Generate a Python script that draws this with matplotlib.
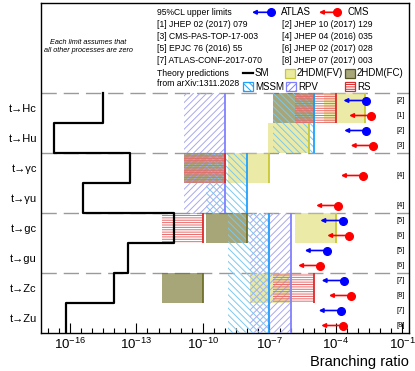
import numpy as np
import matplotlib
matplotlib.use('Agg')
import matplotlib.pyplot as plt
import matplotlib.transforms as mtransforms
from matplotlib.patches import Rectangle
from matplotlib.lines import Line2D
from matplotlib.ticker import FixedLocator, FuncFormatter, NullFormatter

plt.rcParams['font.family'] = ['Liberation Sans', 'DejaVu Sans']
plt.rcParams['mathtext.default'] = 'regular'
plt.rcParams['hatch.linewidth'] = 0.7

nan = np.nan

# decay channels, top to bottom
processes = ['t→Hc', 't→Hu', 't→γc', 't→γu', 't→gc', 't→gu', 't→Zc', 't→Zu']

# theory predictions from arXiv:1311.2028
sm = [3e-15, 2e-17, 5e-14, 4e-16, 5e-12, 4e-14, 1e-14, 7e-17]
thdm_fv = [2e-3, 6e-6, 1e-7, nan, 1e-4, nan, 1e-6, nan]
thdm_fc = [1e-5, nan, 1e-9, nan, 1e-8, nan, 1e-10, nan]
mssm = [1e-5, 1e-5, 1e-8, 1e-8, 1e-7, 1e-7, 1e-7, 1e-7]
rpv = [1e-9, 1e-9, 1e-9, 1e-9, 1e-6, 1e-6, 1e-6, 1e-6]
rs = [1e-4, nan, 1e-9, nan, 1e-10, nan, 1e-5, nan]

# 95% CL upper limits
atlas = [2.2e-3, 2.4e-3, nan, nan, 2.0e-4, 4.0e-5, 2.3e-4, 1.7e-4]
atlas_ref = ['[2]', '[2]', '', '', '[5]', '[5]', '[7]', '[7]']
cms = [4.0e-3, 4.7e-3, 1.7e-3, 1.3e-4, 4.1e-4, 2.0e-5, 4.9e-4, 2.2e-4]
cms_ref = ['[1]', '[3]', '[4]', '[4]', '[6]', '[6]', '[8]', '[8]']

refs_left = ['[1] JHEP 02 (2017) 079', '[3] CMS-PAS-TOP-17-003',
             '[5] EPJC 76 (2016) 55', '[7] ATLAS-CONF-2017-070']
refs_right = ['[2] JHEP 10 (2017) 129', '[4] JHEP 04 (2016) 035',
              '[6] JHEP 02 (2017) 028', '[8] JHEP 07 (2017) 003']

n = len(processes)
ycen = n - np.arange(n) - 0.5
box_span = 10 ** 1.85  # width of each theory box (decades)

fig = plt.figure(figsize=(4.15, 3.71), dpi=100)
ax = fig.add_axes([41 / 415, 1 - 333 / 371, 368 / 415, 330 / 371])
ax.set_xscale('log')
ax.set_xlim(5e-18, 0.2)
ax.set_ylim(0, 11)

# group separators
for yl in [8, 6, 4, 2]:
    ax.axhline(yl, color='#9a9a9a', lw=1.0, ls=(0, (11, 5)), zorder=1)


def fill_boxes(vals, color, alpha, edge):
    for v, y in zip(vals, ycen):
        if np.isnan(v):
            continue
        lo = v / box_span
        ax.add_patch(Rectangle((lo, y - 0.5), v - lo, 1, facecolor=color,
                               alpha=alpha, lw=0, zorder=2))
        ax.vlines(v, y - 0.5, y + 0.5, color=edge, lw=1.3, zorder=4)


def hatch_boxes(vals, color, hatch, edge):
    for v, y in zip(vals, ycen):
        if np.isnan(v):
            continue
        lo = v / box_span
        ax.add_patch(Rectangle((lo, y - 0.5), v - lo, 1, facecolor='none',
                               edgecolor=color, lw=0, hatch=hatch, zorder=3))
        ax.vlines(v, y - 0.5, y + 0.5, color=edge, lw=1.3, zorder=4)


fill_boxes(thdm_fv, '#d8d850', 0.5, '#c8c832')
fill_boxes(thdm_fc, '#6b6b20', 0.6, '#6f6f2a')
hatch_boxes(mssm, '#7cc8f0', '\\\\\\\\\\', '#1ea0ff')
hatch_boxes(rpv, '#a8a8f0', '/////', '#8080ff')
hatch_boxes(rs, '#e86a6a', '-------', '#dd2a2a')

# SM step line
edges = np.arange(n, -1, -1)
ys = np.column_stack([edges[:-1], edges[1:]]).ravel()
ax.plot(np.repeat(sm, 2), ys, color='black', lw=1.6, zorder=5)

# experimental limits
trans_r = mtransforms.blended_transform_factory(ax.transAxes, ax.transData)


def draw_limits(vals, refs, color, dy):
    for v, r, y in zip(vals, refs, ycen):
        if np.isnan(v):
            continue
        ax.annotate('', xy=(v / 10, y + dy), xytext=(v, y + dy),
                    arrowprops=dict(arrowstyle='-|>', color=color, lw=1.2,
                                    mutation_scale=6, shrinkA=0, shrinkB=0),
                    zorder=6)
        ax.plot(v, y + dy, 'o', color=color, ms=5.5, zorder=7)
        ax.text(0.989, y + dy, r, transform=trans_r, ha='right', va='center',
                fontsize=5.5)


draw_limits(atlas, atlas_ref, '#0000ff', 0.25)
draw_limits(cms, cms_ref, '#ff0000', -0.25)

# axes styling
ax.set_yticks(ycen)
ax.set_yticklabels(processes, fontsize=8)
ax.tick_params(axis='y', length=0, pad=3)
ax.xaxis.set_major_locator(FixedLocator(10.0 ** np.arange(-16, 0, 3)))
ax.xaxis.set_minor_locator(FixedLocator(10.0 ** np.arange(-17, 0, 0.5)))
ax.xaxis.set_major_formatter(FuncFormatter(lambda v, p: '$10^{%d}$' % round(np.log10(v))))
ax.xaxis.set_minor_formatter(NullFormatter())
ax.tick_params(axis='x', which='major', direction='in', length=7, width=0.8,
               labelsize=9.5, pad=3)
ax.tick_params(axis='x', which='minor', direction='in', length=3.5, width=0.8)
for s in ax.spines.values():
    s.set_linewidth(1.0)


# legend area (pixel layout of the reference)
def fx(px):
    return (px - 41) / 368


def fy(py):
    return (333 - py) / 330


T = ax.transAxes
ax.text(1.0, fy(366), 'Branching ratio', transform=T, ha='right',
        va='baseline', fontsize=10.5)

ax.text(fx(88), fy(42), 'Each limit assumes that', transform=T, ha='center',
        va='center', fontsize=5.2, style='italic')
ax.text(fx(88), fy(50), 'all other processes are zero', transform=T,
        ha='center', va='center', fontsize=5.2, style='italic')

fs = 6.2
ax.text(fx(157), fy(12.3), '95%CL upper limits', transform=T, va='center', fontsize=fs)
for i, (a, b) in enumerate(zip(refs_left, refs_right)):
    yy = fy(24.3 + 12.1 * i)
    ax.text(fx(157), yy, a, transform=T, va='center', fontsize=fs)
    ax.text(fx(282), yy, b, transform=T, va='center', fontsize=fs)
ax.text(fx(157), fy(73.3), 'Theory predictions', transform=T, va='center', fontsize=fs)
ax.text(fx(157), fy(83.8), 'from arXiv:1311.2028', transform=T, va='center', fontsize=fs)

for x0, x1, col, lab in [(271, 252, '#0000ff', 'ATLAS'), (337, 319, '#ff0000', 'CMS')]:
    ax.annotate('', xy=(fx(x1), fy(12.3)), xytext=(fx(x0), fy(12.3)),
                xycoords='axes fraction', textcoords='axes fraction',
                arrowprops=dict(arrowstyle='-|>', color=col, lw=1.2,
                                mutation_scale=6, shrinkA=0, shrinkB=0))
    ax.plot([fx(x0)], [fy(12.3)], 'o', color=col, ms=5.5, transform=T, clip_on=False)
    ax.text(fx(x0 + 10), fy(12.3), lab, transform=T, va='center', fontsize=7)

ax.add_line(Line2D([fx(243), fx(253)], [fy(73.3), fy(73.3)], color='black',
                   lw=1.6, transform=T))
ax.text(fx(255), fy(73.3), 'SM', transform=T, va='center', fontsize=7)

bw, bh = 10 / 368, 9 / 330
legend_boxes = [
    (285, 73.3, dict(facecolor='#ebeba0', edgecolor='#c8c832', lw=0.9), '2HDM(FV)'),
    (345, 73.3, dict(facecolor='#a6a679', edgecolor='#55551f', lw=0.9), '2HDM(FC)'),
    (243, 86.5, dict(facecolor='white', edgecolor='#1ea0ff', lw=0.9, hatch='\\\\\\\\\\'), 'MSSM'),
    (286, 86.5, dict(facecolor='white', edgecolor='#8080ff', lw=0.9, hatch='/////'), 'RPV'),
    (345, 86.5, dict(facecolor='white', edgecolor='#dd2a2a', lw=0.9, hatch='-------'), 'RS'),
]
for px, py, kw, lab in legend_boxes:
    ax.add_patch(Rectangle((fx(px), fy(py) - bh / 2), bw, bh, transform=T, **kw))
    ax.text(fx(px + 12), fy(py), lab, transform=T, va='center', fontsize=7)

fig.savefig('out.png', dpi=100)
